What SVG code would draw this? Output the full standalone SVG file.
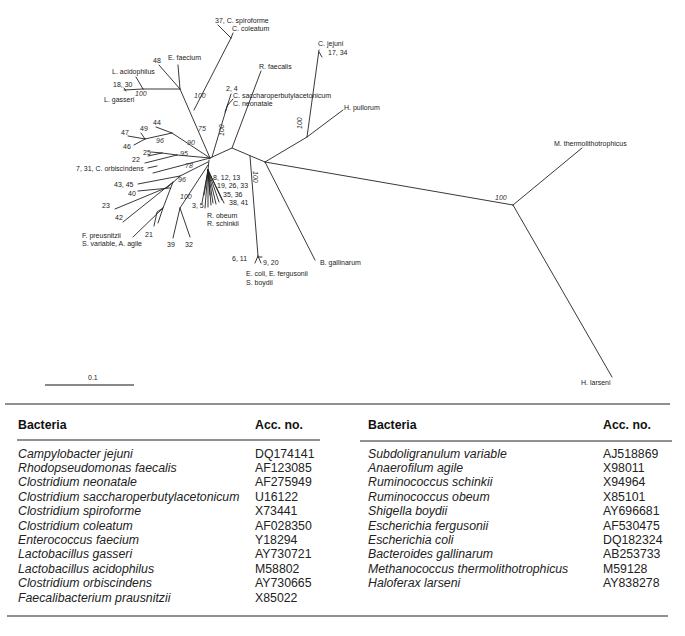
<svg xmlns="http://www.w3.org/2000/svg" width="685" height="636" viewBox="0 0 685 636">
<style>
.br{fill:none;stroke:#222;stroke-width:0.9;stroke-linecap:round}
.lb{font-family:"Liberation Sans",Arial,sans-serif;font-size:7px;fill:#222}
.bs{font-family:"Liberation Sans",Arial,sans-serif;font-size:7px;font-style:italic;fill:#333}
.th{font-family:"Liberation Sans",Arial,sans-serif;font-size:12.3px;font-weight:bold;fill:#111}
.ti{font-family:"Liberation Sans",Arial,sans-serif;font-size:12.3px;font-style:italic;fill:#222}
.tn{font-family:"Liberation Sans",Arial,sans-serif;font-size:12.3px;fill:#222}
.rule{stroke:#222;stroke-width:1.2}
</style>
<rect width="685" height="636" fill="#fff"/>
<g id="connectors">
<path class="br" d="M210,158 L180,89 M180,89 L159,65 M180,89 L178,65 M180,89 L143,89 M143,89 L136,77 M143,89 L124,90 M124,88 L126,91"/>
<path class="br" d="M194,110 L231,38 M231,38 L218,25 M231,38 L233,33"/>
<path class="br" d="M212,157 L226,110 M226,110 L231,94 M227,106 L233,99 M225,112 L228,104"/>
<path class="br" d="M210,158 L232,148 L265,162 M232,148 L261,71"/>
<path class="br" d="M250,156 L258,256 M258,256 L255,263 M258,256 L261,263 M258,257 L262,257"/>
<path class="br" d="M265,162 L307,137 M307,137 L319,50 M319,52 L322,57 M307,137 L343,110"/>
<path class="br" d="M265,162 L315,260"/>
<path class="br" d="M265,162 L513,205 M513,205 L582,148 M513,205 L612,377"/>
<path class="br" d="M210,158 L172,133 M172,133 L156,127 M172,133 L145,139 M145,139 L128,136 M145,139 L141,133 M145,139 L134,145"/>
<path class="br" d="M210,158 L177,155 M177,155 L162,153 M162,153 L148,156 M162,153 L151,152 M177,155 L145,163"/>
<path class="br" d="M210,158 L153,173 M148,168 L157,166"/>
<path class="br" d="M208,162 L180,176 M180,176 L138,184 M170,188 L138,191 M180,176 L168,187 L115,209 M173,182 L123,222 M173,182 L163,208 L133,237 M163,208 L157,212 L154,226 M163,208 L158,223"/>
<path class="br" d="M208,165 L180,208 M180,208 L173,238 M180,208 L190,237"/>
<path class="br" d="M209,160 L208,170 M208,170 L202,203 M208,170 L205,208 M208,170 L208,207 M208,170 L211,205 M208,170 L213,203 M208,170 L216,204 M208,170 L219,202 M208,170 L222,200 M208,170 L224,203 M208,170 L210,195 M208,170 L204,195"/>
</g>
<g id="bootstrap">
<text class="bs" x="135" y="96">100</text>
<text class="bs" x="194" y="98">100</text>
<text class="bs" x="198" y="131">75</text>
<text class="bs" x="156" y="143">96</text>
<text class="bs" x="187" y="145">90</text>
<text class="bs" x="180" y="156">95</text>
<text class="bs" x="185" y="168">78</text>
<text class="bs" x="178" y="182">96</text>
<text class="bs" x="180" y="199">100</text>
<text class="bs" x="495" y="200">100</text>
<text class="bs" transform="translate(224,136) rotate(-90)">100</text>
<text class="bs" transform="translate(302,129) rotate(-90)">100</text>
<text class="bs" transform="translate(253,171) rotate(90)">100</text>
</g>
<g id="n-37"><text class="lb" x="215" y="23">37, C. spiroforme</text></g>
<g id="n-coleatum"><text class="lb" x="232" y="31">C. coleatum</text></g>
<g id="n-48"><text class="lb" x="153" y="63">48</text></g>
<g id="n-efaecium"><text class="lb" x="168" y="60">E. faecium</text></g>
<g id="n-lacidophilus"><text class="lb" x="112" y="74">L. acidophilus</text></g>
<g id="n-18-30"><text class="lb" x="113" y="87">18, 30</text></g>
<g id="n-lgasseri"><text class="lb" x="104" y="102">L. gasseri</text></g>
<g id="n-2-4"><text class="lb" x="226" y="91">2, 4</text></g>
<g id="n-csacch"><text class="lb" x="233" y="98">C. saccharoperbutylacetonicum</text></g>
<g id="n-cneonatale"><text class="lb" x="233" y="106">C. neonatale</text></g>
<g id="n-rfaecalis"><text class="lb" x="259" y="69">R. faecalis</text></g>
<g id="n-cjejuni"><text class="lb" x="318" y="46">C. jejuni</text></g>
<g id="n-17-34"><text class="lb" x="328" y="55">17, 34</text></g>
<g id="n-hpullorum"><text class="lb" x="344" y="110">H. pullorum</text></g>
<g id="n-mthermo"><text class="lb" x="554" y="146">M. thermolithotrophicus</text></g>
<g id="n-hlarseni"><text class="lb" x="581" y="385">H. larseni</text></g>
<g id="n-44"><text class="lb" x="153" y="125">44</text></g>
<g id="n-49"><text class="lb" x="140" y="131">49</text></g>
<g id="n-47"><text class="lb" x="121" y="135">47</text></g>
<g id="n-46"><text class="lb" x="123" y="149">46</text></g>
<g id="n-25"><text class="lb" x="143" y="155">25</text></g>
<g id="n-22"><text class="lb" x="132" y="162">22</text></g>
<g id="n-orbis"><text class="lb" x="76" y="171">7, 31, C. orbiscindens</text></g>
<g id="n-43-45"><text class="lb" x="114" y="187">43, 45</text></g>
<g id="n-40"><text class="lb" x="128" y="196">40</text></g>
<g id="n-23"><text class="lb" x="102" y="208">23</text></g>
<g id="n-42"><text class="lb" x="115" y="220">42</text></g>
<g id="n-fpreus"><text class="lb" x="82" y="238">F. preusnitzii</text></g>
<g id="n-svar"><text class="lb" x="82" y="246">S. variable, A. agile</text></g>
<g id="n-21"><text class="lb" x="145" y="237">21</text></g>
<g id="n-39"><text class="lb" x="167" y="247">39</text></g>
<g id="n-32"><text class="lb" x="185" y="247">32</text></g>
<g id="n-3-5"><text class="lb" x="192" y="208">3, 5</text></g>
<g id="n-8-12-13"><text class="lb" x="213" y="180">8, 12, 13</text></g>
<g id="n-19-26-33"><text class="lb" x="217" y="188">19, 26, 33</text></g>
<g id="n-35-36"><text class="lb" x="223" y="197">35, 36</text></g>
<g id="n-38-41"><text class="lb" x="229" y="205">38, 41</text></g>
<g id="n-robeum"><text class="lb" x="207" y="218">R. obeum</text></g>
<g id="n-rschinkii"><text class="lb" x="207" y="226">R. schinkii</text></g>
<g id="n-6-11"><text class="lb" x="232" y="261">6, 11</text></g>
<g id="n-9-20"><text class="lb" x="263" y="265">9, 20</text></g>
<g id="n-ecoli"><text class="lb" x="246" y="276">E. coli, E. fergusonii</text></g>
<g id="n-sboydii"><text class="lb" x="246" y="285">S. boydii</text></g>
<g id="n-bgallinarum"><text class="lb" x="320" y="265">B. gallinarum</text></g>
<g id="scalebar">
<line x1="45" y1="385" x2="134" y2="385" stroke="#888" stroke-width="2"/>
<text class="lb" x="88" y="380">0.1</text>
</g>
<g id="table">
<line class="rule" x1="5" y1="404" x2="670" y2="404"/>
<line class="rule" x1="17" y1="440" x2="320" y2="440"/>
<line class="rule" x1="360" y1="441" x2="672" y2="441"/>
<line class="rule" x1="7" y1="616" x2="668" y2="616"/>
<text class="th" x="18" y="429">Bacteria</text>
<text class="th" x="255" y="429">Acc.  no.</text>
<text class="th" x="368" y="429">Bacteria</text>
<text class="th" x="603" y="429">Acc. no.</text>
<g class="ti">
<text x="18" y="457.5">Campylobacter jejuni</text>
<text x="18" y="471.9">Rhodopseudomonas faecalis</text>
<text x="18" y="486.3">Clostridium neonatale</text>
<text x="18" y="500.7">Clostridium saccharoperbutylacetonicum</text>
<text x="18" y="515.1">Clostridium spiroforme</text>
<text x="18" y="529.5">Clostridium coleatum</text>
<text x="18" y="543.9">Enterococcus faecium</text>
<text x="18" y="558.3">Lactobacillus gasseri</text>
<text x="18" y="572.7">Lactobacillus acidophilus</text>
<text x="18" y="587.1">Clostridium orbiscindens</text>
<text x="18" y="601.5">Faecalibacterium prausnitzii</text>
<text x="368" y="457.5">Subdoligranulum variable</text>
<text x="368" y="471.9">Anaerofilum agile</text>
<text x="368" y="486.3">Ruminococcus schinkii</text>
<text x="368" y="500.7">Ruminococcus obeum</text>
<text x="368" y="515.1">Shigella boydii</text>
<text x="368" y="529.5">Escherichia fergusonii</text>
<text x="368" y="543.9">Escherichia coli</text>
<text x="368" y="558.3">Bacteroides gallinarum</text>
<text x="368" y="572.7">Methanococcus thermolithotrophicus</text>
<text x="368" y="587.1">Haloferax larseni</text>
</g>
<g class="tn">
<text x="255" y="457.5">DQ174141</text>
<text x="255" y="471.9">AF123085</text>
<text x="255" y="486.3">AF275949</text>
<text x="255" y="500.7">U16122</text>
<text x="255" y="515.1">X73441</text>
<text x="255" y="529.5">AF028350</text>
<text x="255" y="543.9">Y18294</text>
<text x="255" y="558.3">AY730721</text>
<text x="255" y="572.7">M58802</text>
<text x="255" y="587.1">AY730665</text>
<text x="255" y="601.5">X85022</text>
<text x="603" y="457.5">AJ518869</text>
<text x="603" y="471.9">X98011</text>
<text x="603" y="486.3">X94964</text>
<text x="603" y="500.7">X85101</text>
<text x="603" y="515.1">AY696681</text>
<text x="603" y="529.5">AF530475</text>
<text x="603" y="543.9">DQ182324</text>
<text x="603" y="558.3">AB253733</text>
<text x="603" y="572.7">M59128</text>
<text x="603" y="587.1">AY838278</text>
</g>
</g>
</svg>
